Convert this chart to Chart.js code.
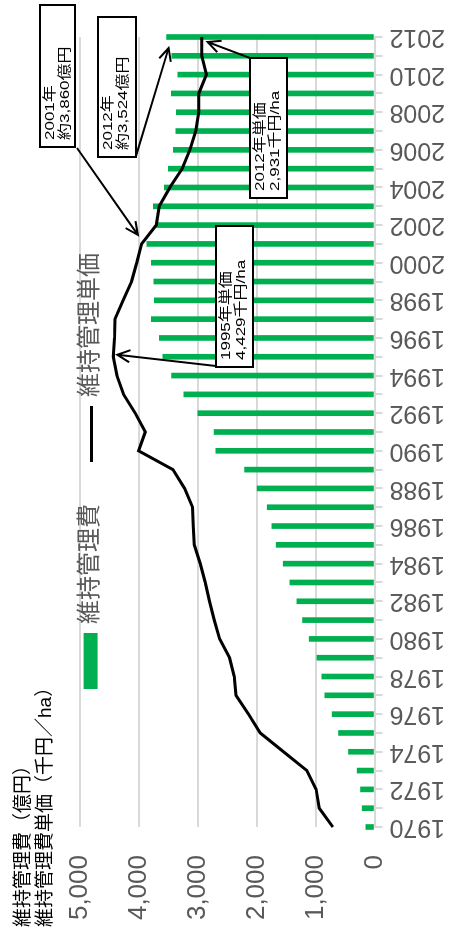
<!DOCTYPE html>
<html lang="ja">
<head>
<meta charset="utf-8">
<title>維持管理費の推移</title>
<script src="https://cdn.jsdelivr.net/npm/chart.js@4.4.1/dist/chart.umd.min.js"></script>
<style>
  html, body { margin: 0; padding: 0; background: #fff; overflow: hidden; }
  /* the chart is laid out landscape, then turned a quarter turn to the left */
  #wrap {
    position: absolute; left: 0; top: 0;
    width: 932px; height: 462px;
    transform-origin: 0 0;
    transform: translate(0, 932px) rotate(-90deg);
  }
</style>
</head>
<body>
<div id="wrap"><canvas id="chart1" width="932" height="462"></canvas></div>
<script>
const years = [
  "1970", "1971", "1972", "1973", "1974", "1975", "1976", "1977", "1978", "1979",
  "1980", "1981", "1982", "1983", "1984", "1985", "1986", "1987", "1988", "1989",
  "1990", "1991", "1992", "1993", "1994", "1995", "1996", "1997", "1998", "1999",
  "2000", "2001", "2002", "2003", "2004", "2005", "2006", "2007", "2008", "2009",
  "2010", "2011", "2012"
];

// 維持管理費（億円）
const costs = [
  147, 209, 237, 294, 441, 610, 718, 842, 893, 977,
  1107, 1220, 1316, 1435, 1548, 1667, 1740, 1819, 1989, 2203,
  2689, 2718, 2994, 3232, 3441, 3588, 3650, 3785, 3734, 3740,
  3785, 3860, 3700, 3751, 3565, 3497, 3412, 3367, 3362, 3446,
  3333, 3435, 3524
];

// 維持管理費単価（千円／ha）
const unitPrices = [
  706, 938, 989, 1147, 1542, 1938, 2136, 2350, 2379, 2458,
  2627, 2718, 2797, 2870, 2955, 3056, 3073, 3085, 3220, 3418,
  4000, 3887, 4056, 4254, 4367, 4429, 4410, 4400, 4260, 4120,
  4030, 3950, 3700, 3650, 3470, 3260, 3130, 3030, 2980, 2980,
  2850, 2930, 2931
];

const costLabel = "維持管理費";
const priceLabel = "維持管理単価";
const titleLines = ["維持管理費（億円）", "維持管理費単価（千円／ha）"];

// callout boxes: box = [x, y, w, h] on the landscape canvas, arrow points at (year, value)
const notes = [
  { lines: ["2001年", "約3,860億円"], box: [785, 40, 142, 35], from: [784, 77], year: "2001", value: 3860, dx: 9, dy: -9 },
  { lines: ["2012年", "約3,524億円"], box: [775, 98, 140, 38], from: [776, 136], year: "2012", value: 3524, dx: -11, dy: 2 },
  { lines: ["2012年単価", "2,931千円/ha"], box: [734, 250, 140, 37], from: [874, 250], year: "2012", value: 2931, dx: -5, dy: 6 },
  { lines: ["1995年単価", "4,429千円/ha"], box: [565, 216, 141, 37], from: [566, 216], year: "1995", value: 4429, dx: 2, dy: 4 }
];

const barColor = "#00b050";
const gridColor = "#d9d9d9";
const tickColor = "#595959";
const family = "'Liberation Sans', 'Noto Sans CJK JP', sans-serif";

function arrow(ctx, x1, y1, x2, y2) {
  const a = Math.atan2(y2 - y1, x2 - x1);
  const h = 14;
  ctx.beginPath();
  ctx.moveTo(x1, y1);
  ctx.lineTo(x2, y2);
  ctx.moveTo(x2 - h * Math.cos(a - 0.45), y2 - h * Math.sin(a - 0.45));
  ctx.lineTo(x2, y2);
  ctx.lineTo(x2 - h * Math.cos(a + 0.45), y2 - h * Math.sin(a + 0.45));
  ctx.stroke();
}

// legend sits inside the plot area, and the callouts go on top of everything
const legendAndNotes = {
  id: "legendAndNotes",
  afterDraw(chart) {
    const ctx = chart.ctx;
    const area = chart.chartArea;
    const xs = chart.scales.x;
    const ys = chart.scales.y;
    ctx.save();

    ctx.font = "24px " + family;
    ctx.textBaseline = "middle";
    const w1 = ctx.measureText(costLabel).width;
    const w2 = ctx.measureText(priceLabel).width;
    const total = 56 + 9 + w1 + 42 + 56 + 9 + w2;
    let lx = chart.width / 2 - total / 2 - 5;
    const ly = area.top + 11;
    ctx.fillStyle = barColor;
    ctx.fillRect(lx, ly - 7, 56, 14);
    ctx.fillStyle = tickColor;
    ctx.fillText(costLabel, lx + 65, ly);
    lx += 65 + w1 + 42;
    ctx.strokeStyle = "#000";
    ctx.lineWidth = 3;
    ctx.beginPath();
    ctx.moveTo(lx, ly + 1);
    ctx.lineTo(lx + 56, ly + 1);
    ctx.stroke();
    ctx.fillStyle = tickColor;
    ctx.fillText(priceLabel, lx + 65, ly);

    ctx.lineWidth = 2;
    ctx.font = "17px " + family;
    notes.forEach(n => {
      const i = years.indexOf(n.year);
      const tx = xs.getPixelForValue(i) + n.dx;
      const ty = ys.getPixelForValue(n.value) + n.dy;
      ctx.strokeStyle = "#000";
      arrow(ctx, n.from[0], n.from[1], tx, ty);
      ctx.fillStyle = "#fff";
      ctx.fillRect(n.box[0], n.box[1], n.box[2], n.box[3]);
      ctx.strokeRect(n.box[0], n.box[1], n.box[2], n.box[3]);
      ctx.fillStyle = "#000";
      n.lines.forEach((t, k) => {
        // the callout text in the source is squat, so squeeze it a little
        ctx.save();
        ctx.translate(n.box[0] + 7, n.box[1] + 10 + k * 15);
        ctx.scale(1, 0.8);
        ctx.fillText(t, 0, 0);
        ctx.restore();
      });
    });
    ctx.restore();
  }
};

new Chart(document.getElementById("chart1"), {
  data: {
    labels: years,
    datasets: [
      {
        type: "line",
        label: priceLabel,
        data: unitPrices,
        borderColor: "#000",
        borderWidth: 3,
        pointRadius: 0,
        tension: 0,
        order: 1,
        clip: false
      },
      {
        type: "bar",
        label: costLabel,
        data: costs,
        backgroundColor: barColor,
        barThickness: 5,
        order: 2,
        clip: false
      }
    ]
  },
  options: {
    responsive: false,
    animation: false,
    devicePixelRatio: 1,
    font: { family: family },
    layout: { padding: { left: 5, right: 37, top: 0, bottom: 0 } },
    plugins: {
      legend: { display: false },
      tooltip: { enabled: false },
      title: {
        display: true,
        text: titleLines,
        align: "start",
        color: "#000",
        font: { size: 19, family: family, weight: "normal", lineHeight: 1.2 },
        padding: { top: 12, bottom: 22 }
      }
    },
    scales: {
      x: {
        offset: false,
        grid: { offset: false, drawOnChartArea: false, tickLength: 8, color: gridColor, lineWidth: 2 },
        border: { color: gridColor, width: 2 },
        ticks: {
          autoSkip: false,
          minRotation: 90,
          maxRotation: 90,
          padding: 7,
          color: tickColor,
          font: { size: 25, family: family },
          callback: (v, i) => (i % 2 === 0 ? years[i] : "")
        },
        afterFit(s) { s.height = 87.5; }
      },
      y: {
        min: 0,
        max: 5000,
        ticks: { stepSize: 1000, padding: 28, color: tickColor, font: { size: 26, family: family } },
        grid: { color: gridColor, lineWidth: 2, drawTicks: false },
        border: { display: false },
        afterFit(s) { s.width = 100; }
      }
    }
  },
  plugins: [legendAndNotes]
});
</script>
</body>
</html>
